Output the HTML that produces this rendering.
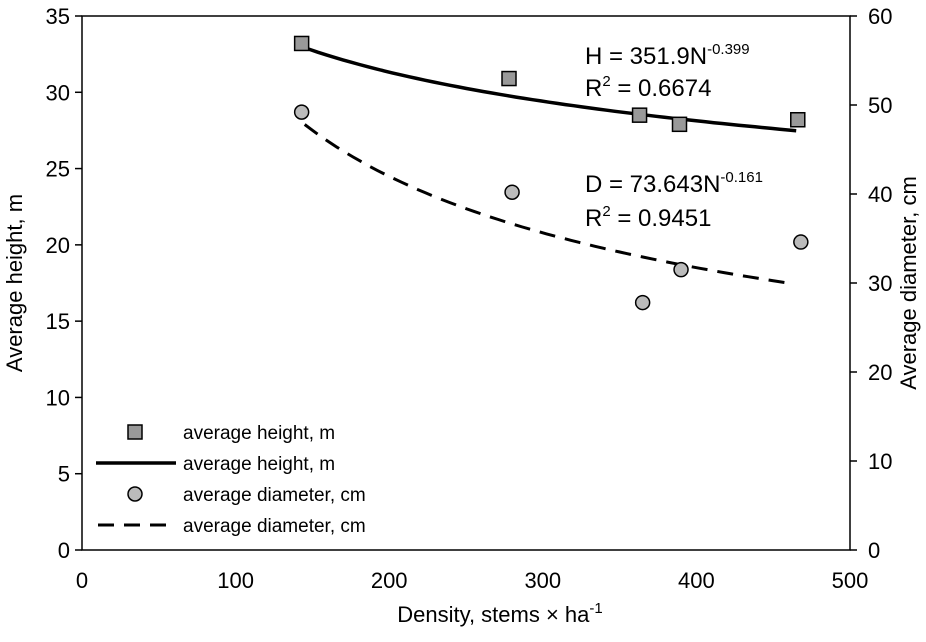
<!DOCTYPE html>
<html><head><meta charset="utf-8"><style>
body{margin:0;background:#fff}
svg text{font-family:"Liberation Sans",sans-serif;fill:#000}
</style></head><body>
<svg width="926" height="637" viewBox="0 0 926 637">
<g id="axes"></g><g id="marks"></g>
</svg>
<script>
const xTicks=[0,100,200,300,400,500];
const yLeftTicks=[0,5,10,15,20,25,30,35];
const yRightTicks=[0,10,20,30,40,50,60];
const densityH=[143,278,363,389,466];
const heights=[33.2,30.9,28.5,27.9,28.2];
const densityD=[143,280,365,390,468];
const diameters=[49.2,40.2,27.8,31.5,34.6];
const fitH=[71.2,-0.155];
const fitD=[357,-0.404];
const fitRangeH=[143,465];
const fitRangeD=[145,460];

const X0=82,X1=850,Y0=550,Y1=16;
const sx=v=>X0+(v/500)*(X1-X0);
const syL=v=>Y0-(v/35)*(Y0-Y1);
const syR=v=>Y0-(v/60)*(Y0-Y1);
const NS='http://www.w3.org/2000/svg';
const axes=document.getElementById('axes'),marks=document.getElementById('marks');
function mk(tag,attrs,parent,text){const e=document.createElementNS(NS,tag);for(const k in attrs)e.setAttribute(k,attrs[k]);if(text!==undefined)e.textContent=text;parent.appendChild(e);return e;}

let e=mk('rect',{x:X0,y:Y1,width:X1-X0,height:Y0-Y1,fill:'none',stroke:'#000','stroke-width':1.5},axes);

yLeftTicks.forEach(t=>{const y=syL(t);
 let l=mk('line',{x1:X0-7,x2:X0,y1:y,y2:y,stroke:'#000','stroke-width':1.5},axes);
 
 let tx=mk('text',{x:X0-12,y:y+8,'text-anchor':'end','font-size':22},axes,t);
 });
yRightTicks.forEach(t=>{const y=syR(t);
 let l=mk('line',{x1:X1,x2:X1+7,y1:y,y2:y,stroke:'#000','stroke-width':1.5},axes);
 
 let tx=mk('text',{x:X1+18,y:y+8,'text-anchor':'start','font-size':22},axes,t);
 });
xTicks.forEach(t=>{
 let tx=mk('text',{x:sx(t),y:Y0+38,'text-anchor':'middle','font-size':22},axes,t);
 });
let xt=mk('text',{x:500,y:622,'text-anchor':'middle','font-size':22},axes);

xt.innerHTML='Density, stems × ha<tspan dy="-9" font-size="15">-1</tspan>';
let yl=mk('text',{transform:'translate(22,283) rotate(-90)','text-anchor':'middle','font-size':22},axes,'Average height, m');

let yr=mk('text',{transform:'translate(916,283) rotate(-90)','text-anchor':'middle','font-size':22},axes,'Average diameter, cm');


function curve(fit,range,sy){let p=[];for(let i=0;i<=60;i++){const n=range[0]+(range[1]-range[0])*i/60;p.push(sx(n).toFixed(1)+','+sy(fit[0]*Math.pow(n,fit[1])).toFixed(1));}return 'M'+p.join('L');}
let ch=mk('path',{d:curve(fitH,fitRangeH,syL),fill:'none',stroke:'#000','stroke-width':3.5},marks);

let cd=mk('path',{d:curve(fitD,fitRangeD,syR),fill:'none',stroke:'#000','stroke-width':3,'stroke-dasharray':'16,10'},marks);

densityH.forEach((n,i)=>{let r=mk('rect',{x:sx(n)-7,y:syL(heights[i])-7,width:14,height:14,fill:'#999',stroke:'#000','stroke-width':1.5},marks);
 });
densityD.forEach((n,i)=>{let c=mk('circle',{cx:sx(n),cy:syR(diameters[i]),r:7,fill:'#bbb',stroke:'#000','stroke-width':1.5},marks);
 });

function eq(x,y,main,sup,name){let t=mk('text',{x:x,y:y,'font-size':24},marks);t.innerHTML=main+'<tspan dy="-10" font-size="15">'+sup+'</tspan>';return t;}
eq(585,64,'H = 351.9N','-0.399','height-equation');
let r1=mk('text',{x:585,y:96,'font-size':24},marks);r1.innerHTML='R<tspan dy="-10" font-size="15">2</tspan><tspan dy="10"> = 0.6674</tspan>';
eq(585,192,'D = 73.643N','-0.161','diameter-equation');
let r2=mk('text',{x:585,y:226,'font-size':24},marks);r2.innerHTML='R<tspan dy="-10" font-size="15">2</tspan><tspan dy="10"> = 0.9451</tspan>';

const lg=mk('g',{},marks);
const rows=[432,463,494,525],labels=['average height, m','average height, m','average diameter, cm','average diameter, cm'];
let s=mk('rect',{x:128,y:425,width:14,height:14,fill:'#999',stroke:'#000','stroke-width':1.5},lg);
let l1=mk('line',{x1:96,x2:176,y1:463,y2:463,stroke:'#000','stroke-width':3.5},lg);
let c1=mk('circle',{cx:135,cy:494,r:7,fill:'#bbb',stroke:'#000','stroke-width':1.5},lg);
let l2=mk('line',{x1:98,x2:176,y1:525,y2:525,stroke:'#000','stroke-width':3,'stroke-dasharray':'16,10'},lg);
rows.forEach((y,i)=>{let t=mk('text',{x:183,y:y+7,'font-size':19},lg,labels[i]);});
</script>
</body></html>
